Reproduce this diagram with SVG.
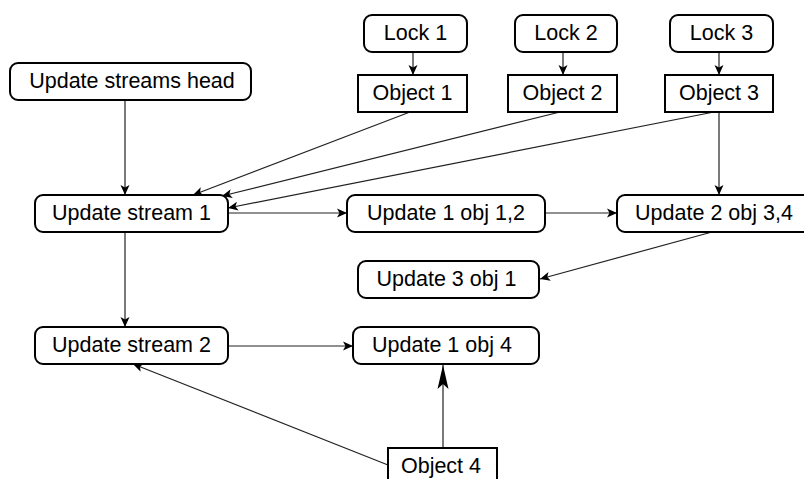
<svg xmlns="http://www.w3.org/2000/svg" width="804" height="479" viewBox="0 0 804 479">
<style>
.r{fill:#fff;stroke:#000;stroke-width:2}
.t{font-family:"Liberation Sans",Arial,sans-serif;font-size:21.5px;fill:#000;text-anchor:middle}
.c{fill:none;stroke:#222;stroke-width:1.2}
</style>
<defs>
<marker id="a" markerUnits="userSpaceOnUse" viewBox="-1 -6 12 12" markerWidth="12" markerHeight="12" refX="10" refY="0" orient="auto">
<path d="M0,-4.5 L10,0 L0,4.5 L2.5,0 Z" fill="#000"/>
</marker>
<marker id="b" markerUnits="userSpaceOnUse" viewBox="-1 -7 26 14" markerWidth="26" markerHeight="14" refX="24" refY="0" orient="auto">
<path d="M0,-5.5 L24,0 L0,5.5 L5,0 Z" fill="#000"/>
</marker>
</defs>
<rect width="804" height="479" fill="#fff"/>
<g id="connectors">
<line class="c" x1="125" y1="100" x2="125" y2="195" marker-end="url(#a)"/>
<line class="c" x1="125" y1="232" x2="125" y2="327" marker-end="url(#a)"/>
<line class="c" x1="413" y1="52" x2="413" y2="75" marker-end="url(#a)"/>
<line class="c" x1="563" y1="52" x2="563" y2="75" marker-end="url(#a)"/>
<line class="c" x1="719" y1="52" x2="719" y2="75" marker-end="url(#a)"/>
<line class="c" x1="410" y1="112" x2="193" y2="195" marker-end="url(#a)"/>
<line class="c" x1="560" y1="112" x2="222" y2="196" marker-end="url(#a)"/>
<line class="c" x1="714" y1="112" x2="228" y2="208" marker-end="url(#a)"/>
<line class="c" x1="719" y1="112" x2="719" y2="195" marker-end="url(#a)"/>
<line class="c" x1="228" y1="213" x2="347" y2="213" marker-end="url(#a)"/>
<line class="c" x1="545" y1="213" x2="617" y2="213" marker-end="url(#a)"/>
<line class="c" x1="712" y1="232" x2="540" y2="279" marker-end="url(#a)"/>
<line class="c" x1="228" y1="346" x2="353" y2="346" marker-end="url(#a)"/>
<line class="c" x1="388" y1="465" x2="133" y2="364" marker-end="url(#a)"/>
<line class="c" x1="443" y1="448" x2="443" y2="365" marker-end="url(#b)"/>
</g>
<g id="lock1"><rect class="r" x="364" y="15" width="103" height="37" rx="8"/><text class="t" x="415.5" y="40">Lock 1</text></g>
<g id="lock2"><rect class="r" x="515" y="15" width="102" height="37" rx="8"/><text class="t" x="566" y="40">Lock 2</text></g>
<g id="lock3"><rect class="r" x="670" y="15" width="103" height="37" rx="8"/><text class="t" x="721.5" y="40">Lock 3</text></g>
<g id="object1"><rect class="r" x="358" y="75" width="109" height="37"/><text class="t" x="412.5" y="100">Object 1</text></g>
<g id="object2"><rect class="r" x="508" y="75" width="109" height="37"/><text class="t" x="562.5" y="100">Object 2</text></g>
<g id="object3"><rect class="r" x="665" y="75" width="108" height="37"/><text class="t" x="719" y="100">Object 3</text></g>
<g id="head"><rect class="r" x="10" y="63" width="241" height="37" rx="8"/><text class="t" x="132" y="88">Update streams head</text></g>
<g id="stream1"><rect class="r" x="35" y="195" width="193" height="37" rx="8"/><text class="t" x="131.5" y="220">Update stream 1</text></g>
<g id="u1o12"><rect class="r" x="347" y="195" width="198" height="37" rx="8"/><text class="t" x="446" y="220">Update 1 obj 1,2</text></g>
<g id="u2o34"><rect class="r" x="617" y="195" width="194" height="37" rx="8"/><text class="t" x="714" y="220">Update 2 obj 3,4</text></g>
<g id="u3o1"><rect class="r" x="358" y="261" width="181" height="37" rx="8"/><text class="t" x="446.5" y="286">Update 3 obj 1</text></g>
<g id="stream2"><rect class="r" x="35" y="327" width="193" height="37" rx="8"/><text class="t" x="131.5" y="352">Update stream 2</text></g>
<g id="u1o4"><rect class="r" x="353" y="327" width="186" height="37" rx="8"/><text class="t" x="442" y="352">Update 1 obj 4</text></g>
<g id="object4"><rect class="r" x="388" y="448" width="109" height="38"/><text class="t" x="441" y="473">Object 4</text></g>
</svg>
